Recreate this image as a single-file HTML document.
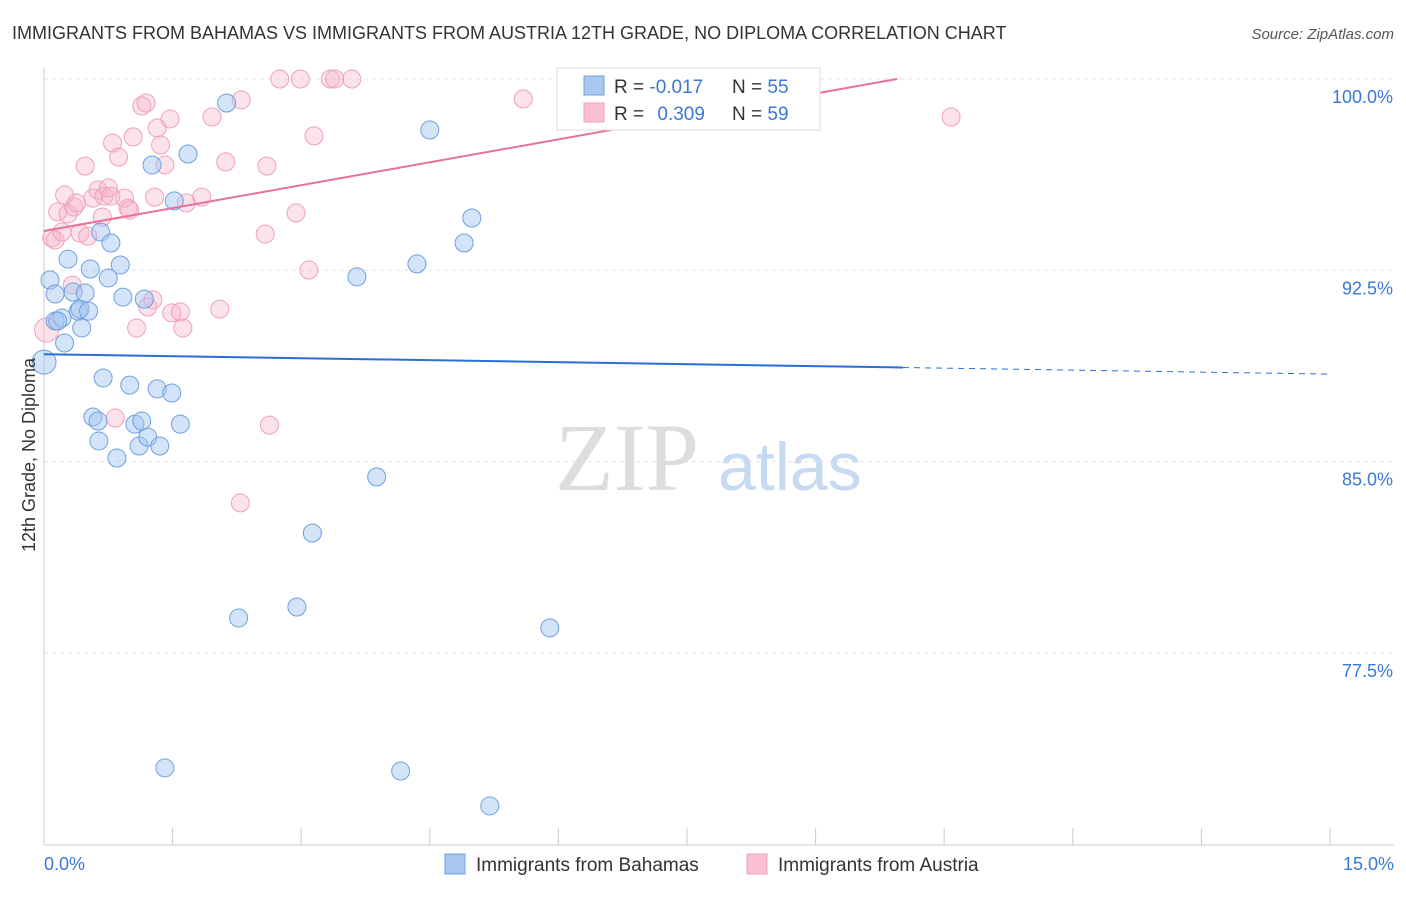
<!DOCTYPE html>
<html><head><meta charset="utf-8"><style>
body{margin:0;background:#fff;font-family:"Liberation Sans",sans-serif;}
</style></head><body>
<svg id="chart" width="1406" height="892" xmlns="http://www.w3.org/2000/svg">
<text x="12" y="39" font-size="18" fill="#333">IMMIGRANTS FROM BAHAMAS VS IMMIGRANTS FROM AUSTRIA 12TH GRADE, NO DIPLOMA CORRELATION CHART</text>
<text x="1394" y="39" font-size="15" fill="#555" font-style="italic" text-anchor="end">Source: ZipAtlas.com</text>
<g id="grid"></g>
<g id="axes"></g>
<text x="555" y="490" font-size="96" fill="#ddd" font-family="Liberation Serif,serif">ZIP</text>
<text x="718" y="490" font-size="68" fill="#c8daf2">atlas</text>
<g id="points"></g>
<g id="trends"></g>
<text transform="translate(35,455) rotate(-90)" font-size="18" fill="#333" text-anchor="middle">12th Grade, No Diploma</text>
<text x="44" y="870" font-size="18" fill="#3a78d8">0.0%</text>
<text x="1394" y="870" font-size="18" fill="#3a78d8" text-anchor="end">15.0%</text>
<g>
<rect x="557" y="68" width="263" height="62" fill="#fff" stroke="#ddd"/>
<rect x="584" y="76" width="20" height="19" fill="#a8c8f0" stroke="#6fa0e0"/>
<rect x="584" y="103" width="20" height="19" fill="#f8c0d0" stroke="#f0a0b8"/>
<text x="614" y="93" font-size="19" fill="#333">R = <tspan fill="#3a78d8">-0.017</tspan><tspan x="732">N = </tspan><tspan fill="#3a78d8">55</tspan></text>
<text x="614" y="120" font-size="19" fill="#333">R = <tspan fill="#3a78d8" dx="8">0.309</tspan><tspan x="732">N = </tspan><tspan fill="#3a78d8">59</tspan></text>
</g>
<g>
<rect x="445" y="854" width="20" height="20" fill="#a8c8f0" stroke="#6fa0e0"/>
<text x="476" y="871" font-size="19" fill="#333">Immigrants from Bahamas</text>
<rect x="747" y="854" width="20" height="20" fill="#f8c0d0" stroke="#f0a0b8"/>
<text x="778" y="871" font-size="19" fill="#333">Immigrants from Austria</text>
</g>
</svg>
<script>
const yTicks=[100,92.5,85,77.5];
const yTickLabels=["100.0%","92.5%","85.0%","77.5%"];
const xTicks=[0,1.5,3,4.5,6,7.5,9,10.5,12,13.5,15];
const blueX=[0,0.07,0.13,0.13,0.21,0.24,0.28,0.34,0.40,0.42,0.44,0.48,0.52,0.54,0.57,0.63,0.64,0.66,0.69,0.75,0.78,0.85,0.89,0.92,1.00,1.06,1.11,1.14,1.17,1.21,1.26,1.32,1.35,1.41,1.49,1.52,1.59,1.68,2.13,2.27,2.95,3.13,3.65,3.88,4.16,4.35,4.50,4.90,4.99,5.20,5.90,6.86,8.85,0.16];
const blueY=[88.9,92.12,91.57,90.51,90.63,89.65,92.94,91.65,90.90,90.98,90.24,91.61,90.90,92.55,86.75,86.59,85.81,94.00,88.28,92.20,93.57,85.14,92.71,91.45,88.00,86.47,85.61,86.59,91.37,85.96,96.63,87.85,85.61,72.99,87.69,95.22,86.47,97.06,99.06,78.87,79.30,82.20,92.24,84.40,72.87,92.75,98.00,93.57,94.55,71.50,78.48,99.96,99.96,90.51];
const pinkX=[0.03,0.09,0.13,0.16,0.21,0.24,0.28,0.33,0.35,0.38,0.42,0.48,0.51,0.57,0.63,0.68,0.70,0.75,0.78,0.80,0.83,0.87,0.94,0.98,1.00,1.04,1.08,1.14,1.19,1.21,1.27,1.29,1.32,1.36,1.41,1.47,1.49,1.59,1.62,1.66,1.84,1.96,2.05,2.12,2.29,2.30,2.58,2.60,2.63,2.75,2.94,2.99,3.09,3.15,3.34,3.39,3.59,5.59,8.08,10.58];
const pinkY=[90.16,93.77,93.69,94.79,94.00,95.45,94.71,91.92,94.98,95.14,93.96,96.59,93.84,95.33,95.65,94.59,95.41,95.73,95.41,97.49,86.71,96.94,95.33,94.94,94.86,97.73,90.24,98.94,99.06,91.06,91.34,95.37,98.08,97.41,96.63,98.43,90.83,90.87,90.24,95.14,95.37,98.51,90.98,96.75,83.38,99.18,93.92,96.59,86.43,100,94.75,100,92.51,97.77,100,100,100,99.22,100,98.51];
const blueTrend=[89.21,88.43];   // y at x=0 and x=15
const blueSolidEnd=[10.02];
const pinkTrend=[94.04,100];     // y at x=0 and at pinkTrendEnd
const pinkTrendEnd=[9.95];

const NS="http://www.w3.org/2000/svg";
const X0=44,X1=1330,Y100=79,PX_PER=191.3/7.5;
const sx=v=>X0+v/15*(X1-X0);
const sy=v=>Y100+(100-v)*PX_PER;
function mk(tag,attrs,parent){const e=document.createElementNS(NS,tag);for(const k in attrs)e.setAttribute(k,attrs[k]);parent.appendChild(e);return e;}
const grid=document.getElementById('grid'),axes=document.getElementById('axes');
yTicks.forEach((t,i)=>{
  const l=mk('line',{x1:X0,x2:1394,y1:sy(t),y2:sy(t),stroke:'#e2e2e2','stroke-dasharray':'4,4'},grid);
  
  
  const tx=mk('text',{x:1393,y:sy(t)+24,'font-size':18,fill:'#3a78d8','text-anchor':'end'},axes);
  tx.textContent=yTickLabels[i];
  
  
});
const yl=mk('line',{x1:X0,x2:X0,y1:68,y2:845,stroke:'#ccc'},axes);


const xl=mk('line',{x1:X0,x2:1394,y1:845,y2:845,stroke:'#ccc'},axes);


xTicks.forEach(t=>{
  const l=mk('line',{x1:sx(t),x2:sx(t),y1:828,y2:845,stroke:'#ccc'},axes);
  
  
});
const pts=document.getElementById('points');
function drawPts(xs,ys,fill,stroke,name){
  xs.forEach((x,i)=>{
    const r=(i===0)?12:9;
    const c=mk('circle',{cx:sx(x),cy:sy(ys[i]),r:r,fill:fill,stroke:stroke,'stroke-width':1},pts);
    
    
  });
}
drawPts(pinkX,pinkY,'rgba(246,176,198,0.35)','#f0a0b8','austria-point');
drawPts(blueX,blueY,'rgba(160,196,240,0.45)','#6fa0e0','bahamas-point');
const tr=document.getElementById('trends');
const bAt=x=>blueTrend[0]+(blueTrend[1]-blueTrend[0])*x/15;
const b1=mk('line',{x1:sx(0),y1:sy(bAt(0)),x2:sx(blueSolidEnd[0]),y2:sy(bAt(blueSolidEnd[0])),stroke:'#2a6fd6','stroke-width':2},tr);


const b2=mk('line',{x1:sx(blueSolidEnd[0]),y1:sy(bAt(blueSolidEnd[0])),x2:sx(15),y2:sy(bAt(15)),stroke:'#2a6fd6','stroke-width':1,'stroke-dasharray':'6,5'},tr);


const p1=mk('line',{x1:sx(0),y1:sy(pinkTrend[0]),x2:sx(pinkTrendEnd[0]),y2:sy(pinkTrend[1]),stroke:'#e8709a','stroke-width':2},tr);


</script>
</body></html>
